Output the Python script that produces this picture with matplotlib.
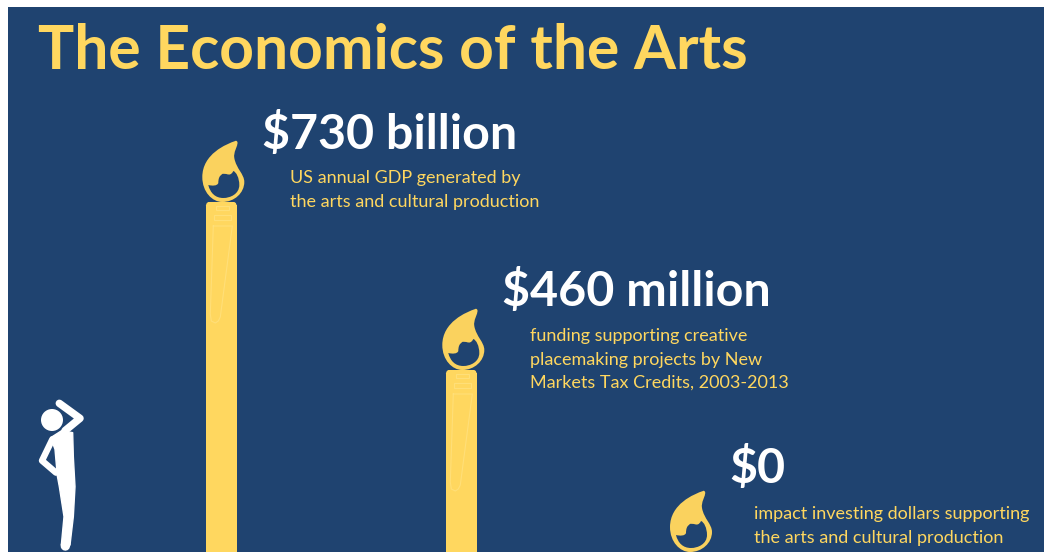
import matplotlib
matplotlib.use('Agg')
import matplotlib.pyplot as plt
from matplotlib.patches import Rectangle, Circle, PathPatch, Polygon
from matplotlib.path import Path

plt.rcParams['font.family'] = ['Lato', 'DejaVu Sans']

# data: brush height in px above the bottom edge of the picture
amounts = ['$730 billion', '$460 million', '$0']
brush_heights = [350, 182, 0]
descriptions = [
    'US annual GDP generated by\nthe arts and cultural production',
    'funding supporting creative\nplacemaking projects by New\nMarkets Tax Credits, 2003-2013',
    'impact investing dollars supporting\nthe arts and cultural production',
]
title = 'The Economics of the Arts'

navy = '#1f4370'
yellow = '#ffd75f'
flame_col = '#fad25e'
pale = '#ffdf78'
W, H = 1045, 552

fig = plt.figure(figsize=(W / 100, H / 100), dpi=100, facecolor='white')
ax = fig.add_axes([0, 0, 1, 1])
ax.set_xlim(0, W)
ax.set_ylim(0, H)
ax.axis('off')

# background panel
ax.add_patch(Rectangle((8, 0), 1036, H - 7, fc=navy, ec='none', zorder=0))

# brush centres
brush_x = [221.3, 461.3, 689]


def flame(cx, top):
    # teardrop with a hole, offsets from handle centre/top, y up
    outer = [(14, 61), (5, 58), (-19, 48), (-19, 25), (-19, 10), (-9, 0), (1, 0),
             (13, 0), (23, 9), (23, 20), (23, 28), (15, 33), (13, 44),
             (12, 50), (16, 55), (16, 58), (17, 60), (15, 62), (14, 61), (14, 61)]
    hole = [(-13, 17), (-9, 16), (-4, 16), (-3, 19), (-3, 23), (-2, 26), (0, 27),
            (1, 29), (3, 28), (5, 28), (8, 27), (10, 27), (12, 31),
            (15, 30), (18, 24), (18, 17), (18, 8), (9, 4), (2, 4),
            (-6, 4), (-11, 9), (-13, 17), (-13, 17)]
    verts = [(cx + x, top + y) for x, y in outer + hole]
    codes = [Path.MOVETO] + [Path.CURVE4] * 18 + [Path.CLOSEPOLY]
    codes += [Path.MOVETO] + [Path.CURVE4] * 21 + [Path.CLOSEPOLY]
    return PathPatch(Path(verts, codes), fc=flame_col, ec='none', zorder=3)


for cx, h in zip(brush_x, brush_heights):
    if h > 0:
        ax.bar(cx, h - 3, width=31, bottom=0, color=yellow, zorder=2)
        # rounded top of the handle
        ax.add_patch(Polygon([(cx - 15.5, h - 3.5), (cx - 14.5, h - 1), (cx - 13, h), (cx + 13, h),
                              (cx + 14.5, h - 1), (cx + 15.5, h - 3.5)], fc=yellow, ec='none', zorder=2))
        # ferrule details on the handle
        ax.add_patch(Rectangle((cx - 5, h - 8), 13, 4, fc='none', ec=pale, lw=0.8, zorder=4))
        ax.add_patch(Rectangle((cx - 7, h - 18), 17, 5, fc='none', ec=pale, lw=0.8, zorder=4))
        ax.plot([cx - 8, cx + 11, cx - 1, cx - 3, cx - 6, cx - 10, cx - 11, cx - 8],
                [h - 24, h - 24, h - 115, h - 119, h - 121, h - 119, h - 112, h - 24],
                color=pale, lw=0.8, zorder=4)
    ax.add_patch(flame(cx, h))

ax.text(38, H - 69, title, color=yellow, fontsize=43.6, fontweight='bold', va='baseline')

amount_x = [262, 502, 729]
amount_y = [149, 306, 483]
desc_x = [290, 530, 754]
desc_y = [183, 341, 519]
for i in range(3):
    ax.text(amount_x[i], H - amount_y[i], amounts[i], color='white', fontsize=34.8, fontweight='bold', va='baseline')
    for j, line in enumerate(descriptions[i].split('\n')):
        ax.text(desc_x[i], H - desc_y[i] - j * 23.5, line, color=yellow, fontsize=13, va='baseline')


def px(x, y):
    return 20 + x / 3, H - (390 + y / 3)


# little person looking up
ax.add_patch(Circle((52, H - 420), 11, fc='white', ec='none', zorder=3))
body = [px(92, 143), px(125, 122), px(158, 128), px(160, 200), px(165, 290), px(160, 380), px(150, 465),
        px(124, 465), px(132, 380), px(118, 290), px(112, 258), px(105, 178)]
ax.add_patch(Polygon(body, fc='white', ec='white', lw=1, joinstyle='round', zorder=3))
for pts, lw in [([(118, 40), (180, 85), (135, 122)], 5.4),
                ([(97, 148), (66, 212), (108, 248)], 4.6),
                ([(137, 462), (136, 468)], 6.8)]:
    xs, ys = zip(*[px(x, y) for x, y in pts])
    ax.plot(xs, ys, color='white', lw=lw, solid_capstyle='round', solid_joinstyle='round', zorder=3)

fig.savefig('out.png', dpi=100)
